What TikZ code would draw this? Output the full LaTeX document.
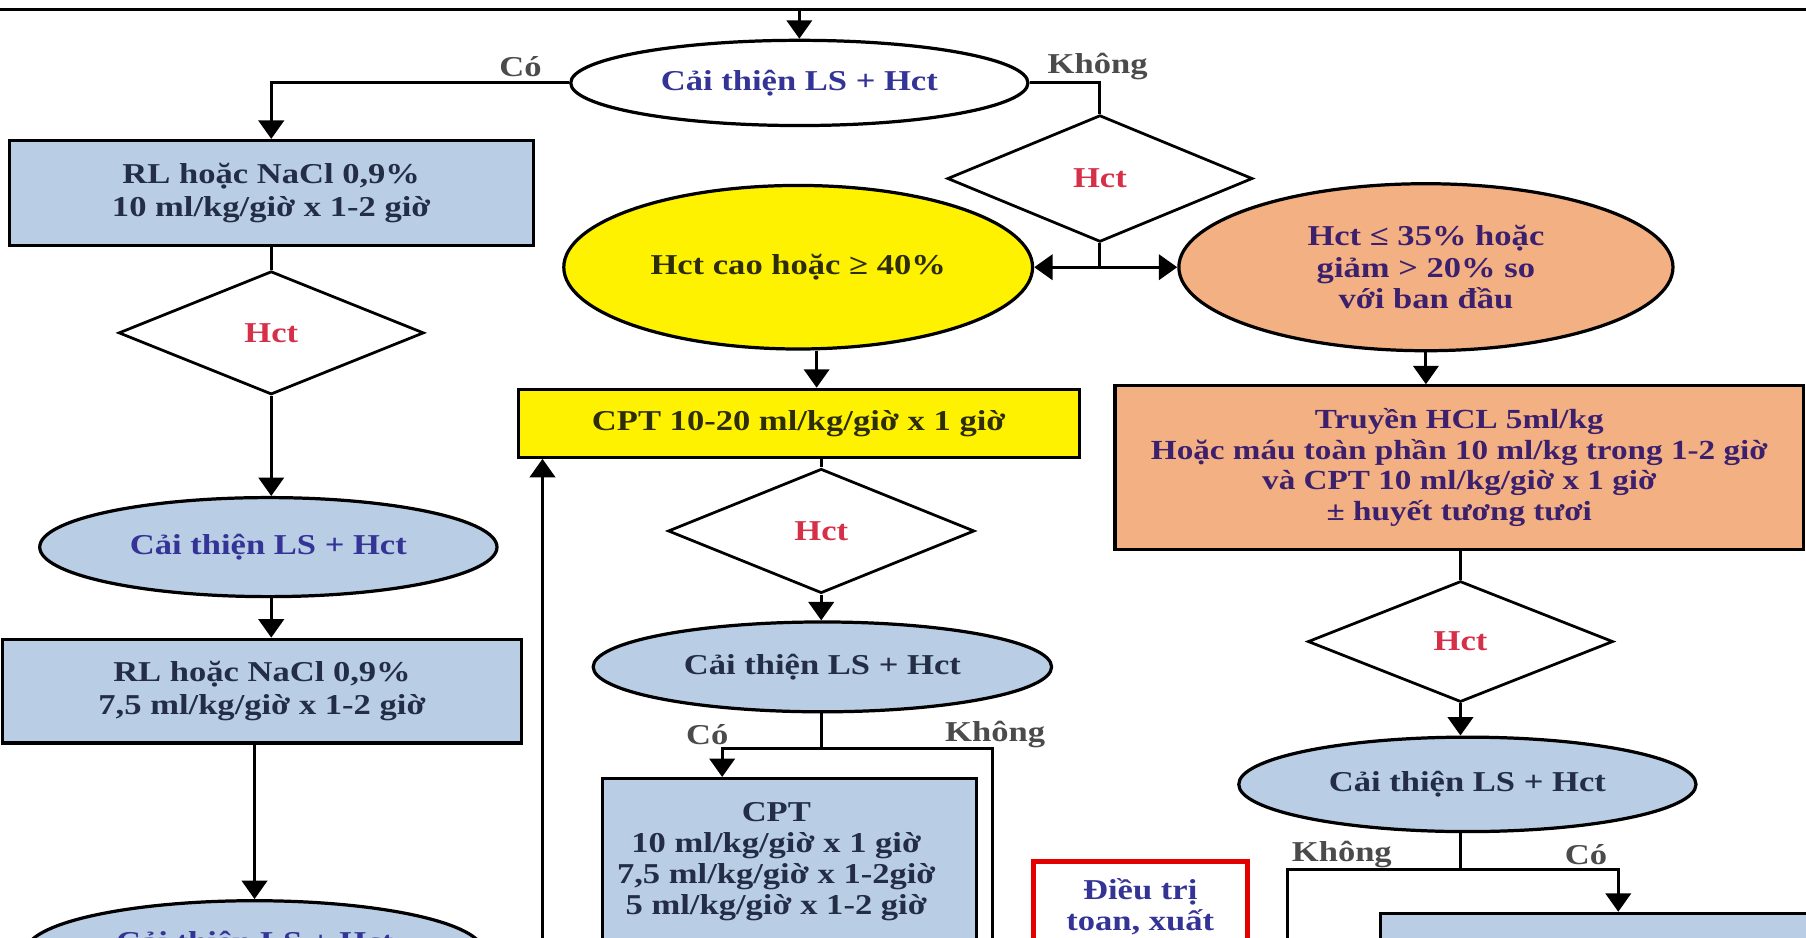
\documentclass[tikz,border=0pt]{standalone}
\usepackage{fontspec}
\setmainfont{Liberation Serif}[FakeStretch=1.2]
\usetikzlibrary{shapes.geometric,arrows.meta,calc}

\definecolor{boxblue}{RGB}{185,205,229}
\definecolor{peach}{RGB}{243,177,131}
\definecolor{hctred}{RGB}{214,48,72}
\definecolor{inkblue}{RGB}{52,52,150}
\definecolor{inkslate}{RGB}{35,45,70}
\definecolor{inkpurple}{RGB}{60,32,110}
\definecolor{inkolive}{RGB}{45,45,10}
\definecolor{labelgray}{RGB}{75,75,75}
\definecolor{alertred}{RGB}{226,0,0}

\tikzset{
  txt/.style={font=\bfseries\fontsize{12.5}{14.5}\selectfont},
  base/.style={txt, draw=black, line width=1.4pt, inner sep=0pt, align=center},
  rbox/.style={base, rectangle},
  oval/.style={base, ellipse},
  decide/.style={base, diamond, line width=1.2pt, text=hctred, fill=white},
  conn/.style={line width=1.3pt},
  arr/.style={conn, -{Triangle[width=11pt,length=8pt]}},
  lbl/.style={txt, text=labelgray, inner sep=0pt},
}

\begin{document}
\begin{tikzpicture}[x=0.5pt,y=-0.5pt]
\useasboundingbox (0,0) rectangle (1568,814);
\fill[white] (0,0) rectangle (1568,814);
\clip (0,0) rectangle (1568,814);

% rule across the top and the incoming arrow
\coordinate (ruleL) at (0,8);
\coordinate (ruleR) at (1568,8);
\draw[line width=1.3pt] (ruleL) -- (ruleR);
\coordinate (T) at (694,8);

% first check
\node[oval, fill=white, text=inkblue, minimum width=198.5pt, minimum height=37pt] (E1) at (694,72) {Cải thiện LS + Hct};
\draw[arr] (T) -- (E1.north);

% ---------- left branch (improvement) ----------
\node[rbox, fill=boxblue, text=inkslate, minimum width=227.5pt, minimum height=45.5pt] (B1) at (235.5,167.5)
  {RL hoặc NaCl 0,9\%\\10 ml/kg/giờ x 1-2 giờ};
\node[decide, minimum width=132.5pt, minimum height=53.5pt] (D2) at (235.5,289) {Hct};
\node[oval, fill=boxblue, text=inkblue, minimum width=198.5pt, minimum height=43pt] (E5) at (233,475) {Cải thiện LS + Hct};
\node[rbox, fill=boxblue, text=inkslate, minimum width=225.5pt, minimum height=45pt] (B3) at (227.5,600)
  {RL hoặc NaCl 0,9\%\\7,5 ml/kg/giờ x 1-2 giờ};
\node[oval, fill=boxblue, minimum width=198.5pt, minimum height=44pt] (E6) at (221,826) {};
\node[txt, text=inkblue, inner sep=0pt] (E6t) at (221,820) {Cải thiện LS + Hct};

\draw[arr] (E1.west) -| (B1.north);
\node[lbl] (yes1) at (452,58) {Có};
\draw[conn] (B1.south) -- (D2.north);
\draw[arr] (D2.south) -- (D2.south |- E5.north);
\draw[arr] (E5.south -| D2.south) -- (D2.south |- B3.north);
\draw[arr] (B3.south -| E6.north) -- (E6.north);

% ---------- right branch (no improvement) ----------
\node[decide, minimum width=132.5pt, minimum height=55pt] (D1) at (955,155) {Hct};
\draw[conn] (E1.east) -| (D1.north);
\node[lbl] (no1) at (953,58) {Không};

\node[oval, fill=yellow, text=inkolive, minimum width=203.5pt, minimum height=71pt] (E2) at (693,232)
  {Hct cao hoặc ≥ 40\%};
\node[oval, fill=peach, text=inkpurple, minimum width=214.5pt, minimum height=72.5pt,
      font=\bfseries\fontsize{12.5}{13.8}\selectfont] (E3) at (1238,232)
  {Hct ≤ 35\% hoặc\\giảm > 20\% so\\với ban đầu};
\coordinate (J1) at (955,232);
\draw[conn] (D1.south) -- (J1);
\draw[arr] (J1) -- (E2.east);
\draw[arr] (J1) -- (E3.west);

% high haematocrit column
\coordinate (mx) at (709,0);
\node[rbox, fill=yellow, text=inkolive, minimum width=243.5pt, minimum height=29.5pt] (B2) at (693.5,367.5)
  {CPT 10-20 ml/kg/giờ x 1 giờ};
\draw[arr] (E2.south -| mx) -- (B2.north -| mx);
\node[decide, minimum width=133pt, minimum height=54pt] (D3) at (713,461) {Hct};
\draw[conn] (B2.south -| D3.north) -- (D3.north);
\node[oval, fill=boxblue, text=inkslate, minimum width=199pt, minimum height=39pt] (E4) at (714,579) {Cải thiện LS + Hct};
\draw[arr] (D3.south) -- (D3.south |- E4.north);

\node[rbox, fill=boxblue, minimum width=162.5pt, minimum height=114pt] (B4) at (685.5,790) {};
\node[txt, text=inkslate, align=center, inner sep=0pt, font=\bfseries\fontsize{12.5}{13.5}\selectfont] (B4t) at (674,748)
  {CPT\\10 ml/kg/giờ x 1 giờ\\7,5 ml/kg/giờ x 1-2giờ\\5 ml/kg/giờ x 1-2 giờ};

\coordinate (J2) at (713,650);
\coordinate (J2L) at (627,650);
\coordinate (J2R) at (862,650);
\coordinate (J2Rb) at (862,840);
\draw[conn] (E4.south -| J2) -- (J2);
\draw[arr] (J2) -- (J2L) -- (J2L |- B4.north);
\draw[conn] (J2) -- (J2R) -- (J2Rb);
\node[lbl] (yes2) at (614,638) {Có};
\node[lbl] (no2) at (864,638) {Không};

% loop back into the colloid step
\coordinate (L1) at (471,840);
\draw[arr] (L1) -- (L1 |- B2.south);

% note box
\node[rbox, draw=alertred, line width=2.2pt, fill=white, minimum width=93pt, minimum height=102pt] (R) at (990,850) {};
\node[txt, text=inkblue, align=center, inner sep=0pt, font=\bfseries\fontsize{12.5}{13.5}\selectfont] (Rt) at (990,787)
  {Điều trị\\toan, xuất};

% low haematocrit column
\node[rbox, fill=peach, text=inkpurple, minimum width=299pt, minimum height=71pt,
      font=\bfseries\fontsize{12}{13.3}\selectfont] (B5) at (1267,406)
  {Truyền HCL 5ml/kg\\Hoặc máu toàn phần 10 ml/kg trong 1-2 giờ\\và CPT 10 ml/kg/giờ x 1 giờ\\± huyết tương tươi};
\draw[arr] (E3.south) -- (E3.south |- B5.north);
\node[decide, minimum width=132.5pt, minimum height=52.5pt] (D4) at (1268,557) {Hct};
\draw[conn] (B5.south -| D4.north) -- (D4.north);
\node[oval, fill=boxblue, text=inkslate, minimum width=198.5pt, minimum height=41pt] (E7) at (1274,681) {Cải thiện LS + Hct};
\draw[arr] (D4.south) -- (D4.south |- E7.north);

\node[rbox, fill=boxblue, minimum width=191.5pt, minimum height=77pt] (B6) at (1390,870) {};
\coordinate (J3) at (1268,755);
\coordinate (J3L) at (1118,755);
\coordinate (J3Lb) at (1118,840);
\coordinate (J3R) at (1405,755);
\draw[conn] (E7.south -| J3) -- (J3);
\draw[conn] (J3) -- (J3L) -- (J3Lb);
\draw[arr] (J3) -- (J3R) -- (J3R |- B6.north);
\node[lbl] (no3) at (1165,742) {Không};
\node[lbl] (yes3) at (1377,742) {Có};
\end{tikzpicture}
\end{document}
